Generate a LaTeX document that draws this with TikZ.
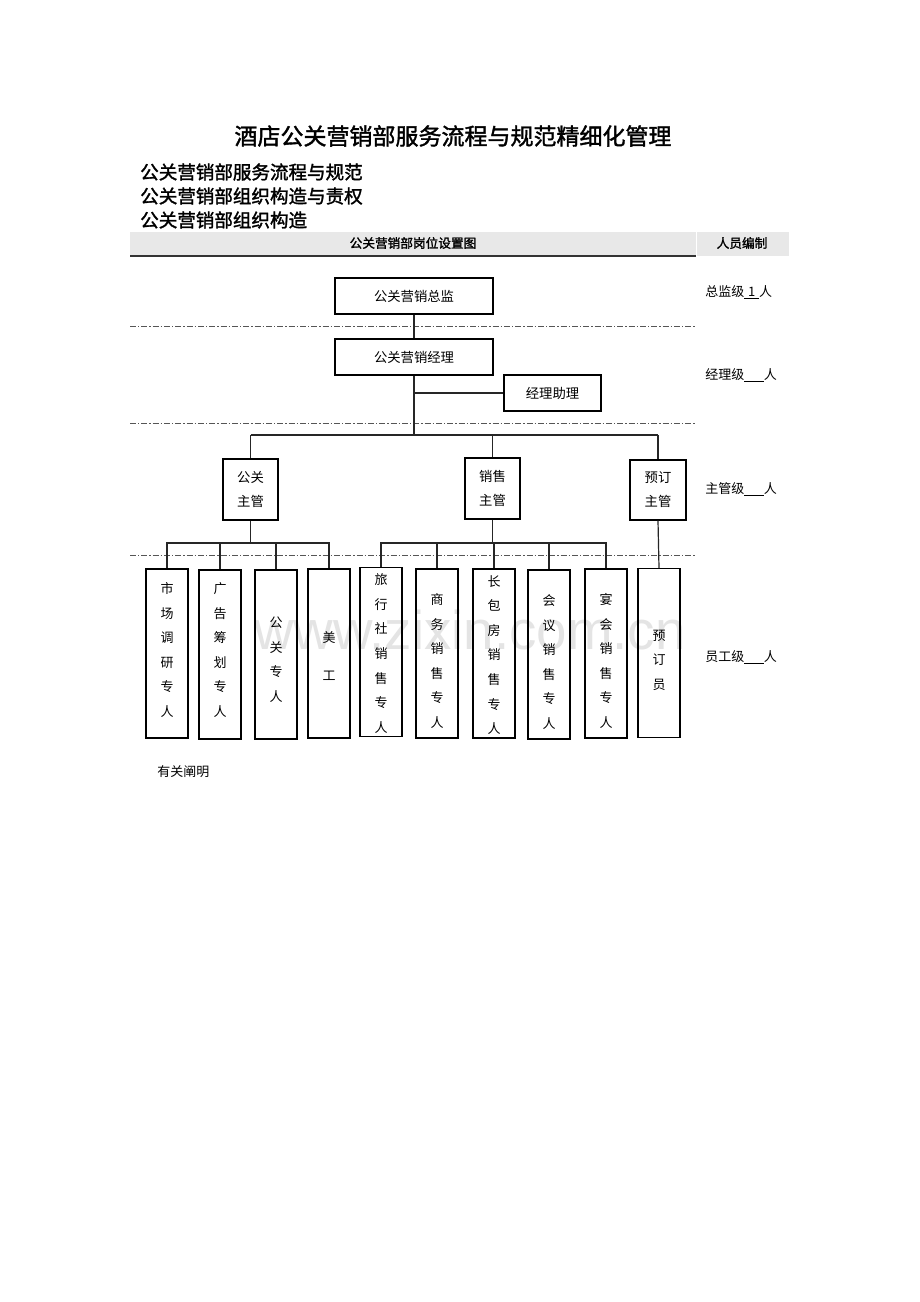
\documentclass[tikz,border=0pt]{standalone}
\usepackage{fontspec}
\newfontfamily\cjk{Noto Sans CJK SC}
\newfontfamily\cjkb[FakeBold=1.6]{Noto Sans CJK SC}
\newfontfamily\wm{Liberation Sans}
\definecolor{hdr}{HTML}{E8E8E8}
\definecolor{dline}{HTML}{555555}
\definecolor{wmc}{HTML}{E4E4E4}
\begin{document}
\begin{tikzpicture}[x=0.75pt,y=-0.75pt,
  box/.style={draw=black,line width=1pt,inner sep=0pt,align=center,font=\cjk\fontsize{10}{12}\selectfont},
  vbox/.style={draw=black,line width=1pt,inner sep=0pt,minimum width=42*0.75pt,minimum height=169*0.75pt},
  vtxt/.style={inner sep=0pt,align=center,font=\cjk\fontsize{9.75}{18.4}\selectfont},
  conn/.style={draw=black!85,line width=0.9pt},
  lvl/.style={draw=dline,line width=0.7pt,dash pattern=on 4.5pt off 1.5pt on 1pt off 1.5pt},
  lab/.style={anchor=west,inner sep=0pt,font=\cjk\fontsize{9.75}{12}\selectfont},
  head/.style={anchor=west,inner sep=0pt,font=\cjkb\fontsize{13.9}{16}\selectfont}]
\useasboundingbox (0,0) rectangle (920,1302);
\fill[white] (0,0) rectangle (920,1302);
% watermark
\node[text=wmc,font=\wm\fontsize{41}{41}\selectfont] (wmk) at (470,630) {www.zixin.com.cn};
% headings
\node[font=\cjkb\fontsize{17.25}{20}\selectfont] (title) at (453,136) {酒店公关营销部服务流程与规范精细化管理};
\node[head] (h1) at (140,172) {公关营销部服务流程与规范};
\node[head] (h2) at (140,196) {公关营销部组织构造与责权};
\node[head] (h3) at (140,220) {公关营销部组织构造};
% header bar
\fill[hdr] (130,232) rectangle (696,256);
\fill[hdr] (697,232) rectangle (789,256);
\draw[draw=black!80,line width=0.9pt] (130,256) -- (696,256);
\node[font=\cjkb\fontsize{9.5}{12}\selectfont] (hd1) at (413,243) {公关营销部岗位设置图};
\node[font=\cjkb\fontsize{9.5}{12}\selectfont] (hd2) at (742,243) {人员编制};
% level lines
\draw[lvl] (130,326) -- (696,326);
\draw[lvl] (130,423) -- (696,423);
\draw[lvl] (130,555) -- (696,555);
% level labels
\node[lab] (l1) at (705,292) {总监级\underline{\makebox[1.15em]{1}}人};
\node[lab] (l2) at (705,375) {经理级\underline{\makebox[1.5em]{}}人};
\node[lab] (l3) at (705,489) {主管级\underline{\makebox[1.5em]{}}人};
\node[lab] (l4) at (705,657) {员工级\underline{\makebox[1.5em]{}}人};
% top boxes
\node[box,minimum width=158*0.75pt,minimum height=36*0.75pt] (zj) at (414,296) {公关营销总监};
\node[box,minimum width=158*0.75pt,minimum height=36*0.75pt] (jl) at (414,357) {公关营销经理};
\node[box,minimum width=97*0.75pt,minimum height=36*0.75pt] (zl) at (552.5,393) {经理助理};
% supervisors
\node[box,minimum width=55*0.75pt,minimum height=61*0.75pt,font=\cjk\fontsize{10}{18}\selectfont] (gg) at (250.5,489.5) {公关\\主管};
\node[box,minimum width=55*0.75pt,minimum height=61*0.75pt,font=\cjk\fontsize{10}{18}\selectfont] (xs) at (492.5,488.5) {销售\\主管};
\node[box,minimum width=56*0.75pt,minimum height=60*0.75pt,font=\cjk\fontsize{10}{18}\selectfont] (yd) at (658,490) {预订\\主管};
% staff boxes
\node[vbox] (s1) at (167,653.5) {};
\node[vbox] (s2) at (220,654.5) {};
\node[vbox] (s3) at (276,654.5) {};
\node[vbox] (s4) at (329,653.5) {};
\node[vbox] (t1) at (381,652) {};
\node[vbox] (t2) at (437,653.5) {};
\node[vbox] (t3) at (494,653.5) {};
\node[vbox] (t4) at (549,654.5) {};
\node[vbox] (t5) at (606,653.5) {};
\node[vbox] (u1) at (659,653) {};
% staff texts
\node[vtxt] (s1t) at (167,650) {市\\场\\调\\研\\专\\人};
\node[vtxt] (s2t) at (220,650) {广\\告\\筹\\划\\专\\人};
\node[vtxt] (s3t) at (276,659.5) {公\\关\\专\\人};
\node[vtxt,font=\cjk\fontsize{9.75}{28.5}\selectfont] (s4t) at (329,656) {美\\工};
\node[vtxt] (t1t) at (381,653.5) {旅\\行\\社\\销\\售\\专\\人};
\node[vtxt] (t2t) at (437,661) {商\\务\\销\\售\\专\\人};
\node[vtxt] (t3t) at (494,655) {长\\包\\房\\销\\售\\专\\人};
\node[vtxt] (t4t) at (549,662) {会\\议\\销\\售\\专\\人};
\node[vtxt] (t5t) at (606,661) {宴\\会\\销\\售\\专\\人};
\node[vtxt] (u1t) at (659,660) {预\\订\\员};
% description
\node[lab] (desc) at (157,772) {有关阐明};
% connectors
\coordinate (ja) at (414,393);
\coordinate (jb) at (414,435);
\coordinate (ga) at (250.5,435);
\coordinate (xa) at (492.5,435);
\coordinate (ya) at (658,435);
\coordinate (gb) at (250.5,543);
\coordinate (xb) at (492.5,543);
\draw[conn] (zj.south) -- (jl.north);
\draw[conn] (jl.south) -- (jb);
\draw[conn] (ja) -- (zl.west);
\draw[conn] (ga) -- (ya);
\draw[conn] (ga) -- (gg.north);
\draw[conn] (xa) -- (xs.north);
\draw[conn] (ya) -- (yd.north);
\draw[conn] (gg.south) -- (gb);
\draw[conn] (s1.north) |- (gb) -| (s4.north);
\draw[conn] (s2.north) -- (s2.north |- gb);
\draw[conn] (s3.north) -- (s3.north |- gb);
\draw[conn] (xs.south) -- (xb);
\draw[conn] (t1.north) |- (xb) -| (t5.north);
\draw[conn] (t2.north) -- (t2.north |- xb);
\draw[conn] (t3.north) -- (t3.north |- xb);
\draw[conn] (t4.north) -- (t4.north |- xb);
\draw[conn] (yd.south) -- (u1.north);
\end{tikzpicture}
\end{document}
